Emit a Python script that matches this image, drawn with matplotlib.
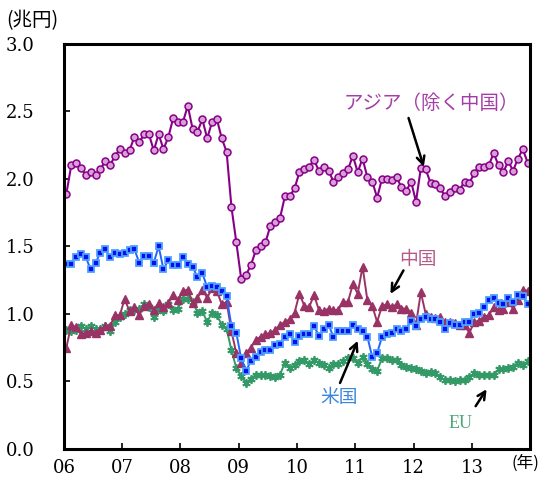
import numpy as np
import matplotlib
matplotlib.use('Agg')
import matplotlib.pyplot as plt

plt.rcParams['font.family'] = ['DejaVu Serif']
JP = ['Noto Sans CJK JP', 'DejaVu Sans']

# monthly values, Jan 2006 - Dec 2013 (trillion yen)
asia = [1.89, 2.10, 2.12, 2.08, 2.03, 2.05, 2.03, 2.07, 2.13, 2.10, 2.17, 2.22,
        2.19, 2.21, 2.31, 2.27, 2.33, 2.33, 2.21, 2.33, 2.22, 2.31, 2.45, 2.42,
        2.42, 2.54, 2.37, 2.35, 2.44, 2.30, 2.42, 2.44, 2.30, 2.20, 1.79, 1.53,
        1.26, 1.29, 1.36, 1.47, 1.50, 1.53, 1.65, 1.68, 1.71, 1.87, 1.87, 1.93,
        2.05, 2.07, 2.09, 2.14, 2.06, 2.09, 2.06, 1.98, 2.01, 2.04, 2.07, 2.17,
        2.05, 2.15, 2.01, 1.98, 1.86, 2.00, 2.00, 1.99, 2.01, 1.94, 1.91, 1.98,
        1.83, 2.08, 2.07, 1.97, 1.96, 1.93, 1.87, 1.90, 1.93, 1.92, 1.98, 1.97,
        2.04, 2.09, 2.09, 2.10, 2.19, 2.10, 2.05, 2.13, 2.06, 2.15, 2.22, 2.12]

china = [0.75, 0.92, 0.90, 0.85, 0.86, 0.87, 0.86, 0.88, 0.91, 0.91, 0.99, 0.99,
         1.11, 1.02, 1.05, 0.99, 1.06, 1.07, 1.03, 1.08, 1.05, 1.08, 1.14, 1.10,
         1.17, 1.18, 1.08, 1.12, 1.18, 1.12, 1.19, 1.17, 1.07, 1.09, 0.87, 0.71,
         0.64, 0.71, 0.75, 0.81, 0.83, 0.85, 0.86, 0.88, 0.92, 0.94, 0.96, 1.01,
         1.15, 1.06, 1.05, 1.14, 1.03, 1.02, 1.04, 1.03, 1.03, 1.09, 1.09, 1.22,
         1.15, 1.35, 1.10, 1.06, 0.94, 1.06, 1.07, 1.05, 1.07, 1.04, 1.04, 1.01,
         0.92, 1.16, 1.00, 0.98, 0.97, 0.98, 0.94, 0.94, 0.93, 0.92, 0.92, 0.86,
         0.94, 0.95, 0.98, 0.99, 1.05, 1.03, 1.04, 1.09, 1.04, 1.10, 1.18, 1.17]

usa = [1.37, 1.37, 1.42, 1.44, 1.42, 1.33, 1.38, 1.45, 1.48, 1.42, 1.45, 1.44,
       1.45, 1.47, 1.48, 1.38, 1.43, 1.43, 1.38, 1.50, 1.33, 1.40, 1.36, 1.36,
       1.42, 1.37, 1.35, 1.27, 1.30, 1.20, 1.21, 1.20, 1.17, 1.13, 0.91, 0.86,
       0.67, 0.58, 0.65, 0.68, 0.72, 0.73, 0.73, 0.77, 0.78, 0.83, 0.85, 0.79,
       0.84, 0.85, 0.85, 0.91, 0.84, 0.89, 0.92, 0.83, 0.87, 0.87, 0.87, 0.92,
       0.89, 0.87, 0.83, 0.68, 0.71, 0.83, 0.85, 0.86, 0.89, 0.87, 0.89, 0.95,
       0.91, 0.96, 0.98, 0.96, 0.96, 0.94, 0.89, 0.93, 0.92, 0.92, 0.94, 0.94,
       1.00, 1.01, 1.05, 1.10, 1.12, 1.08, 1.07, 1.12, 1.09, 1.14, 1.13, 1.07]

eu = [0.88, 0.87, 0.88, 0.91, 0.89, 0.91, 0.89, 0.89, 0.91, 0.87, 0.94, 0.98,
      1.00, 1.03, 1.03, 1.04, 1.07, 1.05, 0.98, 1.04, 1.02, 1.07, 1.03, 1.04,
      1.11, 1.11, 1.09, 1.01, 1.02, 0.94, 1.01, 0.99, 0.92, 0.89, 0.73, 0.60,
      0.54, 0.49, 0.52, 0.55, 0.55, 0.55, 0.54, 0.53, 0.55, 0.64, 0.60, 0.62,
      0.65, 0.66, 0.63, 0.66, 0.64, 0.62, 0.60, 0.63, 0.63, 0.65, 0.67, 0.67,
      0.64, 0.68, 0.63, 0.59, 0.58, 0.67, 0.67, 0.66, 0.66, 0.62, 0.61, 0.60,
      0.59, 0.58, 0.56, 0.57, 0.56, 0.53, 0.51, 0.51, 0.50, 0.51, 0.51, 0.53,
      0.56, 0.55, 0.55, 0.55, 0.55, 0.59, 0.59, 0.60, 0.61, 0.64, 0.62, 0.65]

years = list(range(2006, 2014))
year_labels = ['06', '07', '08', '09', '10', '11', '12', '13']
yticks = [0.0, 0.5, 1.0, 1.5, 2.0, 2.5, 3.0]
ytick_labels = ['0.0', '0.5', '1.0', '1.5', '2.0', '2.5', '3.0']

# each point sits in the middle of its month
x = 2006 + (np.arange(len(asia)) + 0.5) / 12

fig = plt.figure(figsize=(5.42, 4.83), dpi=100)
ax = fig.add_axes([0.118, 0.0704, 0.86, 0.839])

ax.plot(x, eu, color='#339966', lw=1.4, marker=(6, 2, 0), ms=6, mew=1.3)
ax.plot(x, china, color='#993366', lw=1.4, marker='^', ms=6)
ax.plot(x, usa, color='#2266ff', lw=1.4, marker='s', ms=4.5,
        mfc='#0010ee', mec='#4fa0ff', mew=1.3)
ax.plot(x, asia, color='#880088', lw=1.5, marker='o', ms=5,
        mfc='#d7a0d7', mec='#880088', mew=1.1)

ax.set_xlim(2006, 2014)
ax.set_ylim(0, 3.0)
ax.set_xticks(years)
ax.set_xticklabels(year_labels)
ax.set_yticks(yticks)
ax.set_yticklabels(ytick_labels)
for lab in ax.get_yticklabels():
    lab.set_horizontalalignment('left')

ax.tick_params(axis='both', direction='in', length=4, width=1.2, labelsize=13)
ax.tick_params(axis='y', pad=42)
ax.tick_params(axis='x', pad=7)
for sp in ax.spines.values():
    sp.set_linewidth(2.2)

# axis unit labels
fig.text(0.012, 0.958, '(兆円)', fontsize=14, family=JP, ha='left', va='center')
fig.text(0.996, 0.041, '(年)', fontsize=12, family=JP, ha='right', va='center')

# series labels with arrows
arrow = dict(arrowstyle='->', color='black', lw=1.8, mutation_scale=14)
ax.annotate('', xy=(2012.19, 2.07), xytext=(2011.90, 2.47), arrowprops=arrow)
ax.text(2012.30, 2.56, 'アジア（除く中国）', color='#a63ca6', fontsize=14,
        family=JP, ha='center', va='center')

ax.annotate('', xy=(2011.58, 1.13), xytext=(2011.85, 1.34), arrowprops=arrow)
ax.text(2012.08, 1.40, '中国', color='#b45a88', fontsize=13.5,
        family=JP, ha='center', va='center')

ax.annotate('', xy=(2011.06, 0.82), xytext=(2010.72, 0.47), arrowprops=arrow)
ax.text(2010.72, 0.38, '米国', color='#3a86dc', fontsize=13.5,
        family=JP, ha='center', va='center')

ax.annotate('', xy=(2013.28, 0.46), xytext=(2013.04, 0.30), arrowprops=arrow)
ax.text(2012.80, 0.19, 'EU', color='#4aa878', fontsize=13,
        family=['Liberation Serif'], ha='center', va='center')

fig.savefig('out.png', dpi=100)
